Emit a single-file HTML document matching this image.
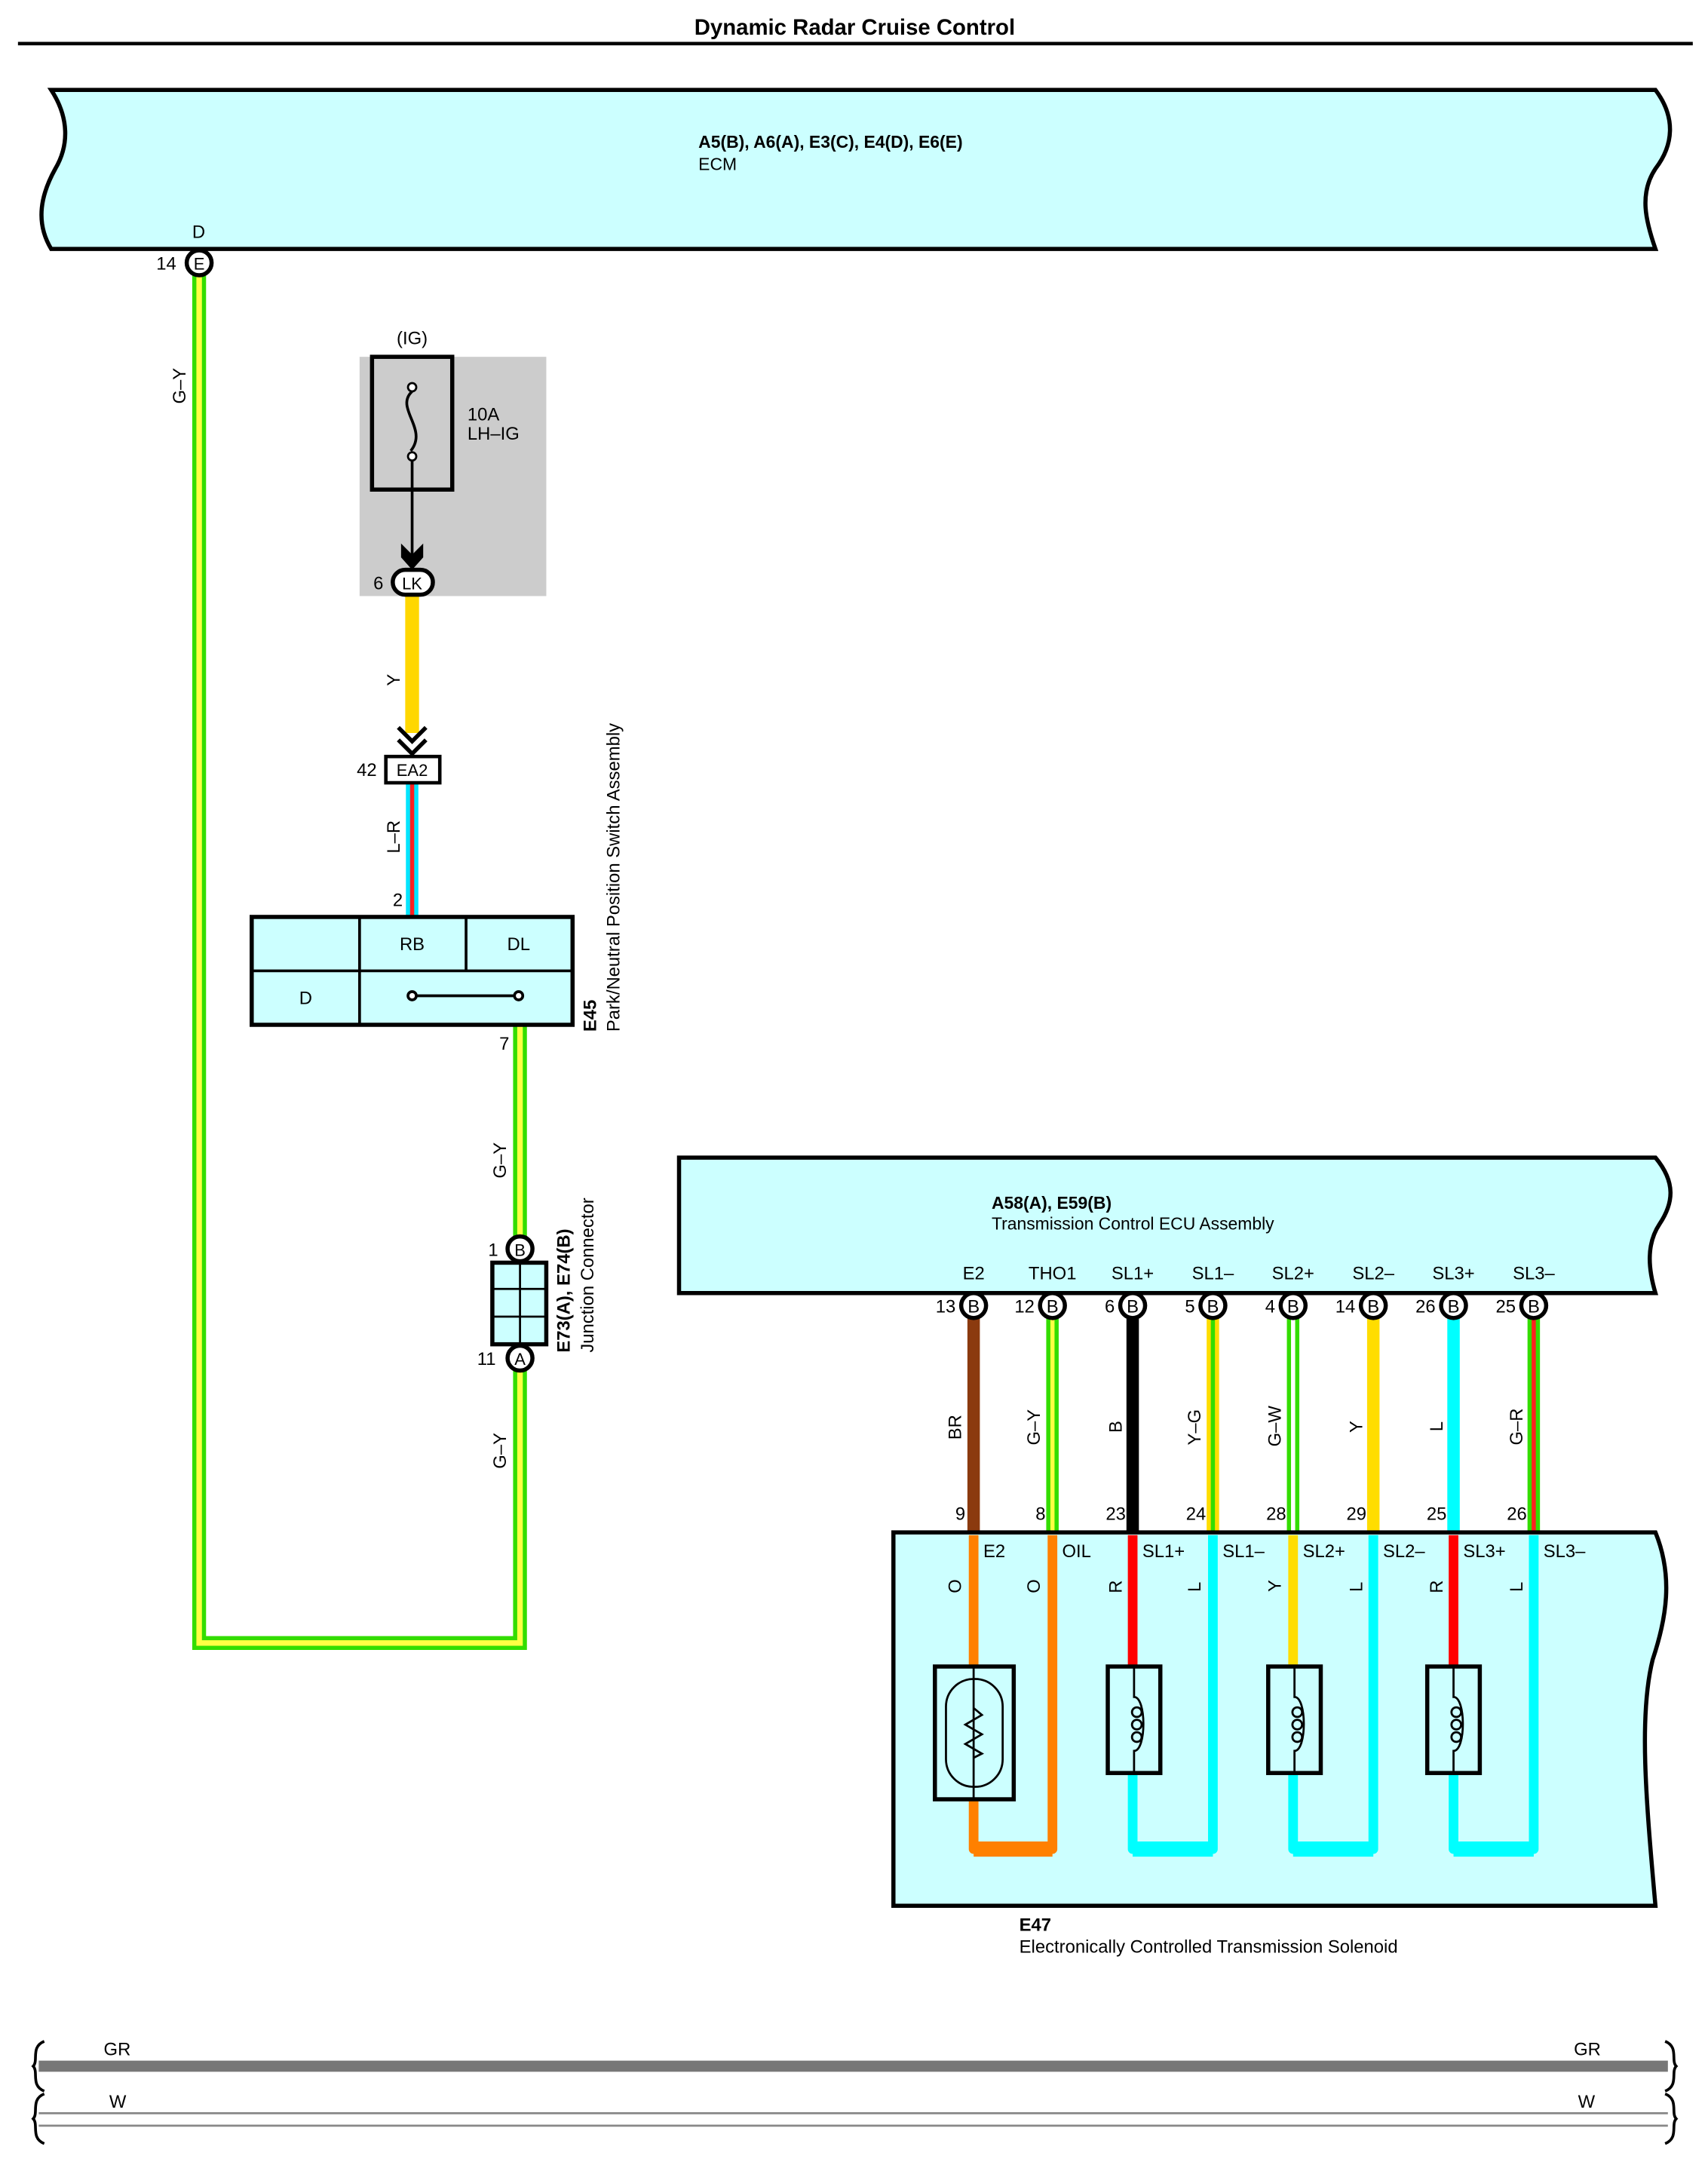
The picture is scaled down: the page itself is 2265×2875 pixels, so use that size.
<!DOCTYPE html>
<html><head><meta charset="utf-8"><style>
html,body{margin:0;padding:0;background:#fff}
svg{display:block}
text{font-family:"Liberation Sans",sans-serif;font-size:13px;fill:#000}
.b{font-weight:bold}
</style></head><body>
<svg width="2265" height="2875" viewBox="0 0 1235 1567.6" xmlns="http://www.w3.org/2000/svg">
<text x="618" y="25" text-anchor="middle" class="b" style="font-size:16px">Dynamic Radar Cruise Control</text>
<line x1="13" y1="31.5" x2="1224" y2="31.5" stroke="#000" stroke-width="2.5"/>

<path d="M37,65 L1197,65 C1212,85 1210,105 1197,122 C1185,140 1190,160 1197,180 L37,180 C25,160 30,140 40,122 C50,105 50,85 37,65 Z" fill="#ccffff" stroke="#000" stroke-width="3"/>
<text x="505" y="107" class="b" style="font-size:12.5px">A5(B), A6(A), E3(C), E4(D), E6(E)</text>
<text x="505" y="123" style="font-size:12.5px">ECM</text>
<text x="139" y="172">D</text>

<path d="M144,199 L144,1188 L376,1188 L376,991" fill="none" stroke="#33dd00" stroke-width="10"/>
<path d="M144,199 L144,1188 L376,1188 L376,991" fill="none" stroke="#ffff44" stroke-width="4"/>
<path d="M376,741 L376,895" fill="none" stroke="#33dd00" stroke-width="10"/>
<path d="M376,741 L376,895" fill="none" stroke="#ffff44" stroke-width="4"/>
<circle cx="144" cy="190" r="9" fill="#fff" stroke="#000" stroke-width="3"/>
<text x="144" y="195" text-anchor="middle" style="font-size:12px">E</text>
<text x="113" y="195">14</text>
<text transform="translate(134,292) rotate(-90)">G–Y</text>

<text x="298" y="249" text-anchor="middle">(IG)</text>
<rect x="260" y="258" width="135" height="173" fill="#cccccc"/>
<rect x="269" y="258" width="58" height="96" fill="none" stroke="#000" stroke-width="3"/>
<path d="M298,332 L298,410" stroke="#000" stroke-width="2"/>
<path d="M298,283 C285,295 310,310 297,326" fill="none" stroke="#000" stroke-width="2"/>
<circle cx="298" cy="280" r="3" fill="#fff" stroke="#000" stroke-width="1.5"/>
<circle cx="298" cy="330" r="3" fill="#fff" stroke="#000" stroke-width="1.5"/>
<path d="M290,393 L298,401 L306,393 L306,403 L298,412 L290,403 Z" fill="#000"/>
<text x="338" y="304">10A</text>
<text x="338" y="318">LH–IG</text>

<line x1="298" y1="430" x2="298" y2="530" stroke="#ffd700" stroke-width="10"/>
<rect x="284" y="412" width="29" height="18" rx="9" fill="#fff" stroke="#000" stroke-width="3"/>
<text x="298" y="426" text-anchor="middle" style="font-size:12px">LK</text>
<text x="270" y="426">6</text>
<text transform="translate(289,496) rotate(-90)">Y</text>
<path d="M288,526 L298,536 L308,526 M288,535 L298,545 L308,535" fill="none" stroke="#000" stroke-width="3"/>

<line x1="298" y1="566" x2="298" y2="663" stroke="#00e5ff" stroke-width="9"/>
<line x1="298" y1="566" x2="298" y2="663" stroke="#ff2020" stroke-width="3"/>
<rect x="279" y="547" width="39" height="19" fill="#fff" stroke="#000" stroke-width="2.5"/>
<text x="298" y="561" text-anchor="middle" style="font-size:12px">EA2</text>
<text x="258" y="561">42</text>
<text transform="translate(289,617) rotate(-90)">L–R</text>
<text x="284" y="655">2</text>

<rect x="182" y="663" width="232" height="78" fill="#ccffff" stroke="#000" stroke-width="3"/>
<line x1="182" y1="702" x2="414" y2="702" stroke="#000" stroke-width="2"/>
<line x1="260" y1="663" x2="260" y2="741" stroke="#000" stroke-width="2"/>
<line x1="337" y1="663" x2="337" y2="702" stroke="#000" stroke-width="2"/>
<text x="298" y="687" text-anchor="middle">RB</text>
<text x="375" y="687" text-anchor="middle">DL</text>
<text x="221" y="726" text-anchor="middle">D</text>
<line x1="298" y1="720" x2="375" y2="720" stroke="#000" stroke-width="2"/>
<circle cx="298" cy="720" r="3" fill="#fff" stroke="#000" stroke-width="2"/>
<circle cx="375" cy="720" r="3" fill="#fff" stroke="#000" stroke-width="2"/>
<text x="361" y="759">7</text>
<text transform="translate(431,746) rotate(-90)" class="b">E45</text>
<text transform="translate(448,746) rotate(-90)">Park/Neutral Position Switch Assembly</text>
<text transform="translate(366,852) rotate(-90)">G–Y</text>

<rect x="356" y="913" width="39" height="59" fill="#ccffff" stroke="#000" stroke-width="3"/>
<line x1="376" y1="913" x2="376" y2="972" stroke="#000" stroke-width="1.5"/>
<line x1="356" y1="932" x2="395" y2="932" stroke="#000" stroke-width="1.5"/>
<line x1="356" y1="952" x2="395" y2="952" stroke="#000" stroke-width="1.5"/>
<circle cx="376" cy="903" r="9" fill="#fff" stroke="#000" stroke-width="3"/>
<text x="376" y="908" text-anchor="middle" style="font-size:12px">B</text>
<text x="353" y="908">1</text>
<circle cx="376" cy="982" r="9" fill="#fff" stroke="#000" stroke-width="3"/>
<text x="376" y="987" text-anchor="middle" style="font-size:12px">A</text>
<text x="345" y="987">11</text>
<text transform="translate(412,978) rotate(-90)" class="b">E73(A), E74(B)</text>
<text transform="translate(429,978) rotate(-90)">Junction Connector</text>
<text transform="translate(366,1062) rotate(-90)">G–Y</text>

<path d="M491,837 L1197,837 C1212,855 1210,870 1200,885 C1190,900 1192,918 1197,935 L491,935 Z" fill="#ccffff" stroke="#000" stroke-width="3"/>
<text x="717" y="874" class="b" style="font-size:12.5px">A58(A), E59(B)</text>
<text x="717" y="889" style="font-size:12.5px">Transmission Control ECU Assembly</text>

<g stroke-width="9">
<line x1="704" y1="953" x2="704" y2="1108" stroke="#8b3a0f"/>
<line x1="761" y1="953" x2="761" y2="1108" stroke="#33dd00"/>
<line x1="819" y1="953" x2="819" y2="1108" stroke="#000"/>
<line x1="877" y1="953" x2="877" y2="1108" stroke="#ffdd00"/>
<line x1="935" y1="953" x2="935" y2="1108" stroke="#33dd00"/>
<line x1="993" y1="953" x2="993" y2="1108" stroke="#ffdd00"/>
<line x1="1051" y1="953" x2="1051" y2="1108" stroke="#00ffff"/>
<line x1="1109" y1="953" x2="1109" y2="1108" stroke="#33dd00"/>
</g>
<g stroke-width="3">
<line x1="761" y1="953" x2="761" y2="1108" stroke="#ffff44"/>
<line x1="877" y1="953" x2="877" y2="1108" stroke="#33dd00"/>
<line x1="935" y1="953" x2="935" y2="1108" stroke="#fff"/>
<line x1="1109" y1="953" x2="1109" y2="1108" stroke="#ff2020"/>
</g>
<g>
<text x="704" y="925" text-anchor="middle">E2</text>
<text x="761" y="925" text-anchor="middle">THO1</text>
<text x="819" y="925" text-anchor="middle">SL1+</text>
<text x="877" y="925" text-anchor="middle">SL1–</text>
<text x="935" y="925" text-anchor="middle">SL2+</text>
<text x="993" y="925" text-anchor="middle">SL2–</text>
<text x="1051" y="925" text-anchor="middle">SL3+</text>
<text x="1109" y="925" text-anchor="middle">SL3–</text>
</g>
<g fill="#fff" stroke="#000" stroke-width="3">
<circle cx="704" cy="944" r="9"/><circle cx="761" cy="944" r="9"/><circle cx="819" cy="944" r="9"/><circle cx="877" cy="944" r="9"/>
<circle cx="935" cy="944" r="9"/><circle cx="993" cy="944" r="9"/><circle cx="1051" cy="944" r="9"/><circle cx="1109" cy="944" r="9"/>
</g>
<g text-anchor="middle" style="font-size:12px">
<text x="704" y="949">B</text><text x="761" y="949">B</text><text x="819" y="949">B</text><text x="877" y="949">B</text>
<text x="935" y="949">B</text><text x="993" y="949">B</text><text x="1051" y="949">B</text><text x="1109" y="949">B</text>
</g>
<g text-anchor="end">
<text x="691" y="949">13</text><text x="748" y="949">12</text><text x="806" y="949">6</text><text x="864" y="949">5</text>
<text x="922" y="949">4</text><text x="980" y="949">14</text><text x="1038" y="949">26</text><text x="1096" y="949">25</text>
<text x="698" y="1099">9</text><text x="756" y="1099">8</text><text x="814" y="1099">23</text><text x="872" y="1099">24</text>
<text x="930" y="1099">28</text><text x="988" y="1099">29</text><text x="1046" y="1099">25</text><text x="1104" y="1099">26</text>
</g>
<g>
<text transform="translate(695,1041) rotate(-90)">BR</text>
<text transform="translate(752,1045) rotate(-90)">G–Y</text>
<text transform="translate(811,1036) rotate(-90)">B</text>
<text transform="translate(868,1045) rotate(-90)">Y–G</text>
<text transform="translate(926,1046) rotate(-90)">G–W</text>
<text transform="translate(985,1036) rotate(-90)">Y</text>
<text transform="translate(1043,1035) rotate(-90)">L</text>
<text transform="translate(1101,1045) rotate(-90)">G–R</text>
</g>

<path d="M646,1108 L1197,1108 C1210,1140 1205,1170 1195,1200 C1185,1240 1190,1300 1197,1378 L646,1378 Z" fill="#ccffff" stroke="#000" stroke-width="3"/>
<g fill="none" stroke-linejoin="round">
<path d="M704,1110 L704,1337 L761,1337 L761,1110" stroke="#ff8000" stroke-width="7"/>
<path d="M704,1337 L761,1337" stroke="#ff8000" stroke-width="11"/>
<path d="M819,1282 L819,1337 L877,1337 L877,1110" stroke="#00ffff" stroke-width="7"/>
<path d="M819,1337 L877,1337" stroke="#00ffff" stroke-width="11"/>
<path d="M935,1282 L935,1337 L993,1337 L993,1110" stroke="#00ffff" stroke-width="7"/>
<path d="M935,1337 L993,1337" stroke="#00ffff" stroke-width="11"/>
<path d="M1051,1282 L1051,1337 L1109,1337 L1109,1110" stroke="#00ffff" stroke-width="7"/>
<path d="M1051,1337 L1109,1337" stroke="#00ffff" stroke-width="11"/>
<line x1="819" y1="1110" x2="819" y2="1204" stroke="#ff0000" stroke-width="7"/>
<line x1="935" y1="1110" x2="935" y2="1204" stroke="#ffdd00" stroke-width="7"/>
<line x1="1051" y1="1110" x2="1051" y2="1204" stroke="#ff0000" stroke-width="7"/>
</g>
<rect x="676" y="1205" width="57" height="96" fill="#ccffff" stroke="#000" stroke-width="3"/>
<line x1="704" y1="1205" x2="704" y2="1301" stroke="#000" stroke-width="1.5"/>
<rect x="684" y="1214" width="41" height="78" rx="20" fill="none" stroke="#000" stroke-width="1.5"/>
<path d="M704,1235 L710,1240 L698,1247 L710,1254 L698,1261 L710,1268 L704,1271" fill="none" stroke="#000" stroke-width="1.5"/>
<g fill="#ccffff" stroke="#000">
<rect x="801" y="1205" width="38" height="77" stroke-width="3"/>
<rect x="917" y="1205" width="38" height="77" stroke-width="3"/>
<rect x="1032" y="1205" width="38" height="77" stroke-width="3"/>
</g>
<g fill="none" stroke="#000" stroke-width="1.5">
<path d="M820,1205 L820,1227 C829,1227 829,1266 820,1266 L820,1282"/>
<circle cx="822" cy="1238" r="3.5"/><circle cx="822" cy="1247" r="3.5"/><circle cx="822" cy="1256" r="3.5"/>
<path d="M936,1205 L936,1227 C945,1227 945,1266 936,1266 L936,1282"/>
<circle cx="938" cy="1238" r="3.5"/><circle cx="938" cy="1247" r="3.5"/><circle cx="938" cy="1256" r="3.5"/>
<path d="M1051,1205 L1051,1227 C1060,1227 1060,1266 1051,1266 L1051,1282"/>
<circle cx="1053" cy="1238" r="3.5"/><circle cx="1053" cy="1247" r="3.5"/><circle cx="1053" cy="1256" r="3.5"/>
</g>
<g>
<text x="711" y="1126">E2</text><text x="768" y="1126">OIL</text><text x="826" y="1126">SL1+</text><text x="884" y="1126">SL1–</text>
<text x="942" y="1126">SL2+</text><text x="1000" y="1126">SL2–</text><text x="1058" y="1126">SL3+</text><text x="1116" y="1126">SL3–</text>
</g>
<g>
<text transform="translate(695,1152) rotate(-90)">O</text>
<text transform="translate(752,1152) rotate(-90)">O</text>
<text transform="translate(811,1152) rotate(-90)">R</text>
<text transform="translate(868,1151) rotate(-90)">L</text>
<text transform="translate(926,1151) rotate(-90)">Y</text>
<text transform="translate(985,1151) rotate(-90)">L</text>
<text transform="translate(1043,1152) rotate(-90)">R</text>
<text transform="translate(1101,1151) rotate(-90)">L</text>
</g>
<text x="737" y="1396" class="b">E47</text>
<text x="737" y="1412">Electronically Controlled Transmission Solenoid</text>

<text x="75" y="1486">GR</text><text x="1138" y="1486">GR</text>
<line x1="28" y1="1494" x2="1206" y2="1494" stroke="#777" stroke-width="8"/>
<text x="79" y="1524">W</text><text x="1141" y="1524">W</text>
<line x1="28" y1="1528" x2="1206" y2="1528" stroke="#888" stroke-width="1.5"/>
<line x1="28" y1="1537" x2="1206" y2="1537" stroke="#888" stroke-width="1.5"/>
<g fill="none" stroke="#000" stroke-width="2">
<path d="M32,1476 C22,1480 28,1490 24,1494 C28,1498 22,1508 32,1512 M32,1514 C22,1518 28,1528 24,1532 C28,1536 22,1546 32,1550"/>
<path d="M1204,1476 C1214,1480 1208,1490 1212,1494 C1208,1498 1214,1508 1204,1512 M1204,1514 C1214,1518 1208,1528 1212,1532 C1208,1536 1214,1546 1204,1550"/>
</g>
</svg>
</body></html>
